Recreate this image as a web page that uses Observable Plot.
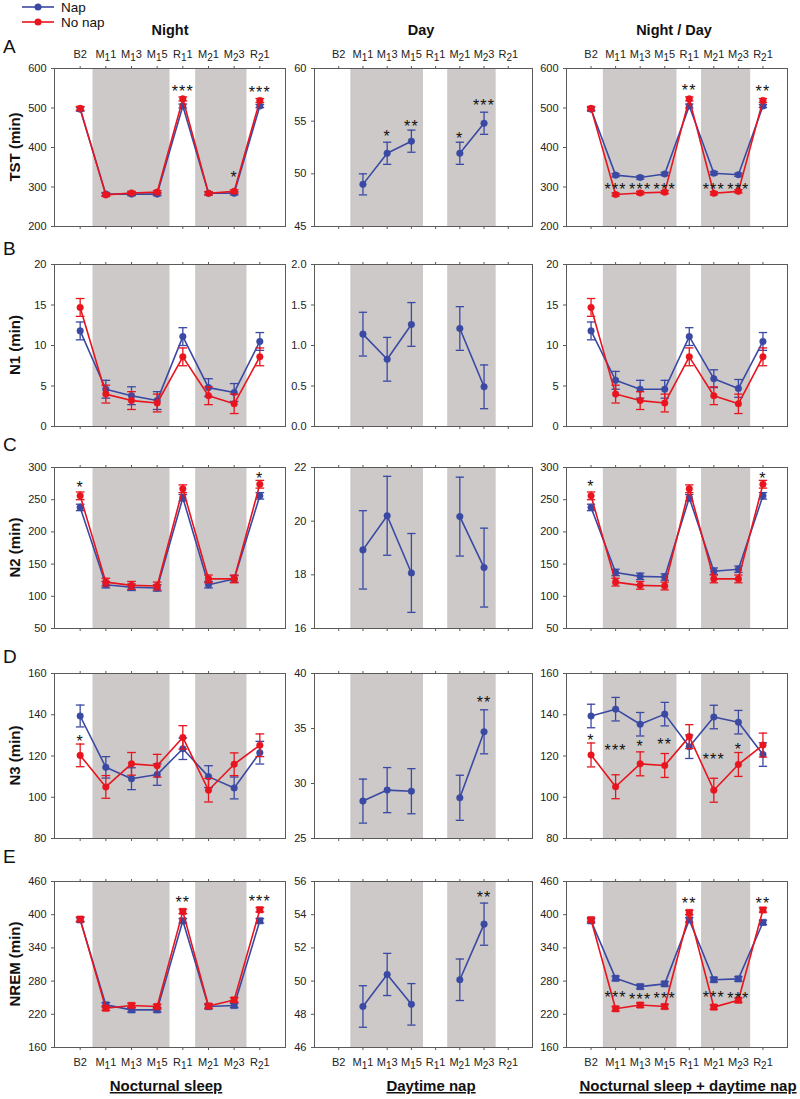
<!DOCTYPE html>
<html>
<head>
<meta charset="utf-8">
<script src="https://cdn.jsdelivr.net/npm/d3@7"></script>
<script src="https://cdn.jsdelivr.net/npm/@observablehq/plot@0.6"></script>
<style>
  html, body { margin: 0; padding: 0; background: #fff; }
  #root { position: relative; width: 800px; height: 1099px; background: #fff; overflow: hidden; font-family: 'Liberation Sans', Arial, sans-serif; }
  #root > svg, #root > figure { position: absolute; margin: 0; }
</style>
</head>
<body>
<div id="root"></div>
<script>
// ---------------- DATA ----------------
const cats = ["B2", "M11", "M13", "M15", "R11", "M21", "M23", "R21"];
const napBands = [["M11", "M15"], ["M21", "M23"]];
const seriesNames = ["Nap", "No nap"];
const columnTitles = ["Night", "Day", "Night / Day"];
const columnCaptions = ["Nocturnal sleep", "Daytime nap", "Nocturnal sleep + daytime nap"];
const rowLetters = ["A", "B", "C", "D", "E"];
const rowTitles = ["TST (min)", "N1 (min)", "N2 (min)", "N3 (min)", "NREM (min)"];

// TST
const tstNightNap = [497, 282, 282, 282, 505, 284, 284, 505];
const tstNightNapErr = [5, 4, 4, 4, 5, 4, 4, 4];
const tstNightNo = [499, 280, 285, 287, 523, 284, 289, 519];
const tstNightNoErr = [5, 4, 4, 4, 5, 4, 4, 5];
const tstNightStars = [{cat: "R11", y: 552, s: "***"}, {cat: "M23", y: 334, s: "*"}, {cat: "R21", y: 549, s: "***"}];
const tstDayNap = [null, 49.0, 51.95, 53.1, null, 51.95, 54.8, null];
const tstDayNapErr = [null, 1.0, 1.05, 1.05, null, 1.05, 1.05, null];
const tstDayStars = [{cat: "M13", y: 53.9, s: "*"}, {cat: "M15", y: 54.85, s: "**"}, {cat: "M21", y: 53.7, s: "*"}, {cat: "M23", y: 56.85, s: "***"}];
const tstBothNap = [497, 330, 324, 333, 505, 335, 331, 505];
const tstBothNapErr = [5, 4, 4, 4, 5, 4, 4, 4];
const tstBothNo = [499, 281, 285, 287, 523, 284, 289, 519];
const tstBothNoErr = [5, 4, 4, 4, 5, 4, 4, 5];
const tstBothStars = [{cat: "M11", y: 305, s: "***"}, {cat: "M13", y: 305, s: "***"}, {cat: "M15", y: 305, s: "***"}, {cat: "R11", y: 556, s: "**"}, {cat: "M21", y: 305, s: "***"}, {cat: "M23", y: 305, s: "***"}, {cat: "R21", y: 553, s: "**"}];

// N1
const n1NightNap = [11.8, 4.6, 3.8, 3.2, 11.1, 4.8, 4.2, 10.5];
const n1NightNapErr = [1.1, 1.1, 1.1, 1.1, 1.1, 1.1, 1.1, 1.1];
const n1NightNo = [14.7, 4.0, 3.2, 2.9, 8.6, 3.8, 2.8, 8.6];
const n1NightNoErr = [1.1, 1.1, 1.1, 1.1, 1.1, 1.1, 1.2, 1.1];
const n1DayNap = [null, 1.14, 0.83, 1.26, null, 1.21, 0.49, null];
const n1DayNapErr = [null, 0.27, 0.27, 0.27, null, 0.27, 0.27, null];
const n1BothNap = [11.8, 5.7, 4.6, 4.6, 11.1, 5.9, 4.7, 10.5];
const n1BothNapErr = [1.1, 1.1, 1.1, 1.1, 1.1, 1.1, 1.1, 1.1];
const n1BothNo = [14.7, 4.0, 3.2, 2.9, 8.6, 3.8, 2.8, 8.6];
const n1BothNoErr = [1.1, 1.1, 1.1, 1.1, 1.1, 1.1, 1.2, 1.1];

// N2
const n2NightNap = [238, 118, 114, 113, 253, 118, 127, 256];
const n2NightNapErr = [5, 5, 5, 5, 5, 5, 5, 5];
const n2NightNo = [256, 122, 117, 116, 267, 127, 127, 274];
const n2NightNoErr = [6, 6, 6, 6, 6, 6, 6, 6];
const n2NightStars = [{cat: "B2", y: 276, s: "*"}, {cat: "R21", y: 289, s: "*"}];
const n2DayNap = [null, 18.93, 20.2, 18.07, null, 20.17, 18.27, null];
const n2DayNapErr = [null, 1.46, 1.47, 1.47, null, 1.47, 1.47, null];
const n2BothNap = [238, 137, 131, 130, 253, 139, 142, 256];
const n2BothNapErr = [5, 5, 5, 5, 5, 5, 5, 5];
const n2BothNo = [256, 122, 117, 116, 267, 127, 127, 274];
const n2BothNoErr = [6, 6, 6, 6, 6, 6, 6, 6];
const n2BothStars = [{cat: "B2", y: 277, s: "*"}, {cat: "R21", y: 289, s: "*"}];

// N3
const n3NightNap = [139.4, 114.5, 109, 111, 123.5, 110, 104.5, 121.6];
const n3NightNapErr = [5.3, 5.2, 5.3, 5.2, 5.2, 5.3, 5.3, 5.5];
const n3NightNo = [120.3, 105, 116.2, 115.3, 129, 103.4, 116, 125.2];
const n3NightNoErr = [5.5, 5.5, 5.5, 5.5, 5.7, 5.7, 5.5, 5.5];
const n3NightStars = [{cat: "B2", y: 129, s: "*"}];
const n3DayNap = [null, 28.4, 29.4, 29.3, null, 28.7, 34.7, null];
const n3DayNapErr = [null, 2.0, 2.05, 2.05, null, 2.05, 2.0, null];
const n3DayStars = [{cat: "M23", y: 37.7, s: "**"}];
const n3BothNap = [139.4, 142.7, 135.4, 140.3, 124.5, 138.9, 136.4, 120.7];
const n3BothNapErr = [5.7, 5.7, 5.7, 5.7, 5.7, 5.7, 5.7, 5.7];
const n3BothNo = [120.5, 105.1, 116.2, 115.4, 129.4, 103.4, 115.9, 125.3];
const n3BothNoErr = [5.8, 5.8, 5.8, 5.8, 5.8, 5.8, 5.8, 5.8];
const n3BothStars = [{cat: "B2", y: 129.5, s: "*"}, {cat: "M11", y: 124.5, s: "***"}, {cat: "M13", y: 126.5, s: "*"}, {cat: "M15", y: 127.5, s: "**"}, {cat: "M21", y: 120.3, s: "***"}, {cat: "M23", y: 125.3, s: "*"}];

// NREM
const nremNightNap = [390.7, 237, 228, 228, 389, 234, 236, 389];
const nremNightNapErr = [4, 4, 4, 4, 4, 4, 4, 4];
const nremNightNo = [392, 231, 236, 234, 406, 235, 246, 409];
const nremNightNoErr = [4, 4, 4, 4, 4, 4, 4, 4];
const nremNightStars = [{cat: "R11", y: 430, s: "**"}, {cat: "R21", y: 432, s: "***"}];
const nremDayNap = [null, 48.47, 50.4, 48.6, null, 50.08, 53.43, null];
const nremDayNapErr = [null, 1.25, 1.27, 1.25, null, 1.25, 1.27, null];
const nremDayStars = [{cat: "M23", y: 55.3, s: "**"}];
const nremBothNap = [388.9, 285, 270, 275, 390.7, 282.5, 284, 386];
const nremBothNapErr = [4, 4, 4, 4, 4, 4, 4, 4];
const nremBothNo = [391, 230, 236.7, 234, 404, 233, 245.4, 408.6];
const nremBothNoErr = [4, 4, 4, 4, 4, 4, 4, 4];
const nremBothStars = [{cat: "M11", y: 258.6, s: "***"}, {cat: "M13", y: 254, s: "***"}, {cat: "M15", y: 255.7, s: "***"}, {cat: "R11", y: 427, s: "**"}, {cat: "M21", y: 257.6, s: "***"}, {cat: "M23", y: 256.5, s: "***"}, {cat: "R21", y: 427, s: "**"}];

// Y axes
const yTST = [200, 300, 400, 500, 600];
const yTSTDay = [45, 50, 55, 60];
const yN1 = [0, 5, 10, 15, 20];
const yN1Day = [0, 0.5, 1.0, 1.5, 2.0];
const yN2 = [50, 100, 150, 200, 250, 300];
const yN2Day = [16, 18, 20, 22];
const yN3 = [80, 100, 120, 140, 160];
const yN3Day = [25, 30, 35, 40];
const yNREM = [160, 220, 280, 340, 400, 460];
const yNREMDay = [46, 48, 50, 52, 54, 56];

// ---------------- STYLE / LAYOUT ----------------
const BLUE = "#3a49a3";
const RED = "#e8141e";
const GRAY = "#ccc9c8";
const FRAME = "#5a5a5a";
const FONT = "'Liberation Sans', Arial, sans-serif";
const colFrames = [[54, 285], [314, 532], [566, 787]];
const rowFrames = [[68, 226], [264, 426], [467, 628], [673, 838], [881, 1047]];
const mL = 40, mR = 10, mT = 32, mB = 32;

const root = document.getElementById("root");

function toRows(vals, errs) {
  return cats.map((c, i) => ({
    i, v: vals[i],
    lo: vals[i] == null ? null : vals[i] - errs[i],
    hi: vals[i] == null ? null : vals[i] + errs[i]
  }));
}

function seriesMarks(vals, errs, color, symbol) {
  const all = toRows(vals, errs);
  const def = all.filter(d => d.v != null);
  const cw = 0.17;
  return [
    Plot.line(all, {x: "i", y: "v", stroke: color, strokeWidth: 1.6}),
    Plot.ruleX(def, {x: "i", y1: "lo", y2: "hi", stroke: color, strokeWidth: 1.3}),
    Plot.link(def, {x1: d => d.i - cw, x2: d => d.i + cw, y1: "hi", y2: "hi", stroke: color, strokeWidth: 1.3}),
    Plot.link(def, {x1: d => d.i - cw, x2: d => d.i + cw, y1: "lo", y2: "lo", stroke: color, strokeWidth: 1.3}),
    Plot.dot(def, {x: "i", y: "v", fill: color, stroke: color, strokeWidth: 0.5, r: symbol === "square" ? 3.6 : 3.3, symbol: symbol || "circle"})
  ];
}

function panel({col, row, yTicks, yFmt, series, stars}) {
  const [x1, x2] = colFrames[col];
  const [y1, y2] = rowFrames[row];
  const width = x2 - x1 + mL + mR;
  const height = y2 - y1 + mT + mB;
  const yDomain = [yTicks[0], yTicks[yTicks.length - 1]];
  const bands = napBands.map(([a, b]) => ({x1: cats.indexOf(a) - 0.5, x2: cats.indexOf(b) + 0.5}));
  const idx = cats.map((c, i) => i);
  const labelTop = row === 0, labelBottom = row === 4;
  const marks = [
    Plot.rect(bands, {x1: "x1", x2: "x2", y1: yDomain[0], y2: yDomain[1], fill: GRAY}),
    Plot.axisY({ticks: yTicks, tickSize: 3, tickPadding: 5, tickFormat: yFmt || (d => String(d)), label: null, stroke: FRAME, fill: "#222"}),
    Plot.axisX({anchor: "top", ticks: idx, tickSize: 3, tickPadding: 8, tickFormat: labelTop ? (i => cats[i]) : (() => ""), label: null, stroke: FRAME, fill: "#222"}),
    Plot.axisX({anchor: "bottom", ticks: idx, tickSize: 3, tickPadding: 8, tickFormat: labelBottom ? (i => cats[i]) : (() => ""), label: null, stroke: FRAME, fill: "#222"}),
  ];
  series.forEach(s => marks.push(...seriesMarks(s.vals, s.errs, s.color, s.symbol)));
  marks.push(Plot.frame({stroke: FRAME, strokeWidth: 1}));
  if (stars) marks.push(Plot.text(stars, {x: d => cats.indexOf(d.cat), y: "y", text: "s", fontSize: 16, dy: 4.5, fill: "#111"}));
  const svg = Plot.plot({
    width, height, marginLeft: mL, marginRight: mR, marginTop: mT, marginBottom: mB,
    x: {domain: [-1, 8]},
    y: {domain: yDomain},
    style: {fontFamily: FONT, fontSize: "11px", color: "#222", background: "transparent", overflow: "visible"},
    marks
  });
  svg.style.left = (x1 - mL) + "px";
  svg.style.top = (y1 - mT) + "px";
  // subscripts in category labels (M₁1 style)
  svg.querySelectorAll('g[aria-label="x-axis tick label"] text').forEach(t => {
    const s = t.textContent;
    const m = /^([MR])(\d)(\d)$/.exec(s);
    if (m) {
      t.textContent = "";
      const ns = "http://www.w3.org/2000/svg";
      const a = document.createElementNS(ns, "tspan"); a.textContent = m[1];
      const b = document.createElementNS(ns, "tspan"); b.textContent = m[2]; b.setAttribute("dy", "3"); b.setAttribute("font-size", "10");
      const c = document.createElementNS(ns, "tspan"); c.textContent = m[3]; c.setAttribute("dy", "-3");
      t.append(a, b, c);
    }
  });
  svg.querySelectorAll("text").forEach(t => {
    if (/^\*+$/.test(t.textContent)) t.style.letterSpacing = "1.2px";
  });
  root.appendChild(svg);
}

const nap = (vals, errs, symbol) => ({vals, errs, color: BLUE, symbol});
const nonap = (vals, errs, symbol) => ({vals, errs, color: RED, symbol});
const f1 = d3.format(".1f");

// Row A
panel({col: 0, row: 0, yTicks: yTST, series: [nap(tstNightNap, tstNightNapErr), nonap(tstNightNo, tstNightNoErr)], stars: tstNightStars});
panel({col: 1, row: 0, yTicks: yTSTDay, series: [nap(tstDayNap, tstDayNapErr)], stars: tstDayStars});
panel({col: 2, row: 0, yTicks: yTST, series: [nap(tstBothNap, tstBothNapErr), nonap(tstBothNo, tstBothNoErr)], stars: tstBothStars});
// Row B
panel({col: 0, row: 1, yTicks: yN1, series: [nap(n1NightNap, n1NightNapErr), nonap(n1NightNo, n1NightNoErr)]});
panel({col: 1, row: 1, yTicks: yN1Day, yFmt: f1, series: [nap(n1DayNap, n1DayNapErr)]});
panel({col: 2, row: 1, yTicks: yN1, series: [nap(n1BothNap, n1BothNapErr), nonap(n1BothNo, n1BothNoErr)]});
// Row C
panel({col: 0, row: 2, yTicks: yN2, series: [nap(n2NightNap, n2NightNapErr), nonap(n2NightNo, n2NightNoErr)], stars: n2NightStars});
panel({col: 1, row: 2, yTicks: yN2Day, series: [nap(n2DayNap, n2DayNapErr)]});
panel({col: 2, row: 2, yTicks: yN2, series: [nap(n2BothNap, n2BothNapErr), nonap(n2BothNo, n2BothNoErr)], stars: n2BothStars});
// Row D
panel({col: 0, row: 3, yTicks: yN3, series: [nap(n3NightNap, n3NightNapErr), nonap(n3NightNo, n3NightNoErr)], stars: n3NightStars});
panel({col: 1, row: 3, yTicks: yN3Day, series: [nap(n3DayNap, n3DayNapErr)], stars: n3DayStars});
panel({col: 2, row: 3, yTicks: yN3, series: [nap(n3BothNap, n3BothNapErr), nonap(n3BothNo, n3BothNoErr)], stars: n3BothStars});
// Row E
panel({col: 0, row: 4, yTicks: yNREM, series: [nap(nremNightNap, nremNightNapErr, "square"), nonap(nremNightNo, nremNightNoErr, "square")], stars: nremNightStars});
panel({col: 1, row: 4, yTicks: yNREMDay, series: [nap(nremDayNap, nremDayNapErr)], stars: nremDayStars});
panel({col: 2, row: 4, yTicks: yNREM, series: [nap(nremBothNap, nremBothNapErr, "square"), nonap(nremBothNo, nremBothNoErr, "square")], stars: nremBothStars});

// ---------------- ANNOTATIONS (titles, letters, legend) ----------------
const ov = d3.select(root).append("svg")
  .attr("width", 800).attr("height", 1099)
  .style("left", "0px").style("top", "0px")
  .style("pointer-events", "none")
  .style("font-family", FONT);

// legend
[[BLUE, 7, seriesNames[0]], [RED, 22, seriesNames[1]]].forEach(([c, y, t]) => {
  ov.append("line").attr("x1", 22).attr("x2", 54).attr("y1", y).attr("y2", y).attr("stroke", c).attr("stroke-width", 1.6);
  ov.append("circle").attr("cx", 38).attr("cy", y).attr("r", 3.5).attr("fill", c);
  ov.append("text").attr("x", 61).attr("y", y).attr("dy", "0.35em").attr("font-size", 13.5).attr("fill", "#111").text(t);
});

// column titles
[170, 421, 674].forEach((x, k) => {
  ov.append("text").attr("x", x).attr("y", 35).attr("text-anchor", "middle")
    .attr("font-size", 14.5).attr("font-weight", "bold").attr("fill", "#111").text(columnTitles[k]);
});

// row letters
[53, 255, 451, 663, 863].forEach((y, k) => {
  ov.append("text").attr("x", 3).attr("y", y).attr("font-size", 19).attr("fill", "#111").text(rowLetters[k]);
});

// row titles (rotated)
rowFrames.forEach(([a, b], k) => {
  const cy = (a + b) / 2;
  ov.append("text").attr("transform", `translate(15,${cy}) rotate(-90)`)
    .attr("text-anchor", "middle").attr("dy", "0.35em")
    .attr("font-size", 15).attr("font-weight", "bold").attr("fill", "#111").text(rowTitles[k]);
});

// column captions (underlined)
[166, 431, 688].forEach((x, k) => {
  ov.append("text").attr("x", x).attr("y", 1091).attr("text-anchor", "middle")
    .attr("font-size", 15).attr("font-weight", "bold").attr("fill", "#111")
    .style("text-decoration", "underline").text(columnCaptions[k]);
});
</script>
</body>
</html>
